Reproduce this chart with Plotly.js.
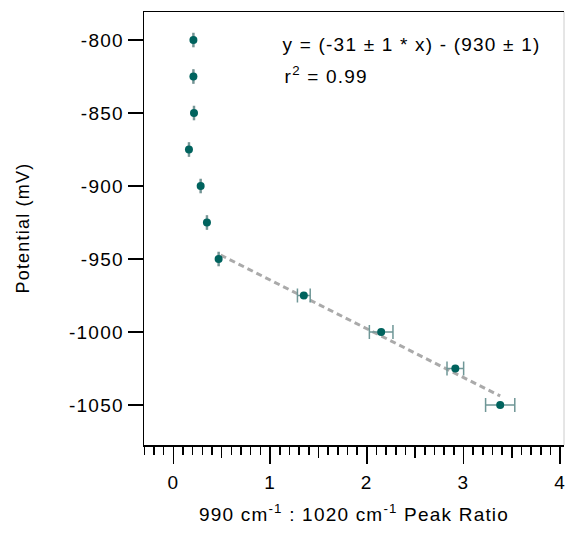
<!DOCTYPE html>
<html>
<head>
<meta charset="utf-8">
<script src="https://cdn.plot.ly/plotly-3.0.1.min.js"></script>
<style>
html,body{margin:0;padding:0;background:#fff;}
#chart{width:566px;height:535px;}
#chart svg text{letter-spacing:1.2px;}
</style>
</head>
<body>
<div id="chart"></div>
<script>
// Data
var peakRatio = [0.207, 0.207, 0.213, 0.161, 0.282, 0.347, 0.468, 1.349, 2.149, 2.916, 3.38];
var potential = [-800, -825, -850, -875, -900, -925, -950, -975, -1000, -1025, -1050];
var ratioErr = [0, 0, 0, 0, 0, 0, 0, 0.066, 0.122, 0.086, 0.151];
var potentialErr = [5, 5, 5, 5, 5, 5, 5, 0, 0, 0, 0];
var fitX = [0.489, 3.38];
var fitY = [-947.3, -1043.8];
var yTicks = [-800, -850, -900, -950, -1000, -1050];
var xTicks = [0, 1, 2, 3, 4];
var xMidTicks = [0.5, 1.5, 2.5, 3.5];
var xTitle = '990 cm<sup>-1</sup> : 1020 cm<sup>-1</sup> Peak Ratio';
var yTitle = 'Potential (mV)';
var fitText = 'y = (-31 ± 1 * x) - (930 ± 1)';
var r2Text = 'r<sup>2</sup> = 0.99';

var font = {family: 'Liberation Sans, Arial, sans-serif', size: 19, color: '#000'};
var yTitleFont = {family: 'Liberation Sans, Arial, sans-serif', size: 18, color: '#000'};

var traces = [
  {
    x: fitX, y: fitY, mode: 'lines', type: 'scatter',
    line: {color: '#aaaaaa', width: 3, dash: '6px,4px'},
    hoverinfo: 'skip', showlegend: false
  },
  {
    x: peakRatio, y: potential, mode: 'markers', type: 'scatter',
    marker: {color: '#00635e', size: 8},
    error_x: {type: 'data', array: ratioErr, visible: true, color: '#6f9797', thickness: 1.5, width: 7},
    error_y: {type: 'data', array: potentialErr, visible: true, color: '#8a9c9c', thickness: 2.5, width: 0},
    showlegend: false
  },
  {
    x: [null], y: [null], xaxis: 'x2', yaxis: 'y', type: 'scatter', mode: 'markers', showlegend: false, hoverinfo: 'skip'
  }
];

var layout = {
  width: 566, height: 535,
  margin: {l: 144, r: 2, t: 12, b: 90},
  paper_bgcolor: '#fff', plot_bgcolor: '#fff',
  font: font,
  showlegend: false,
  xaxis: {
    range: [-0.304, 4.04],
    tickvals: xTicks, ticktext: xTicks.map(String),
    ticks: 'outside', ticklen: 17, tickwidth: 1.5, tickcolor: '#000',
    ticklabelstandoff: 3,
    minor: {dtick: 0.1, tick0: 0, ticks: 'outside', ticklen: 8, tickwidth: 1.5, tickcolor: '#000'},
    showline: true, linecolor: '#000', linewidth: 1.5, mirror: true,
    showgrid: false, zeroline: false,
    tickfont: font,
    title: {text: xTitle, font: font, standoff: 15}
  },
  xaxis2: {
    overlaying: 'x', range: [-0.304, 4.04],
    tickvals: xMidTicks, showticklabels: false,
    ticks: 'outside', ticklen: 12, tickwidth: 1.5, tickcolor: '#000',
    showline: false, showgrid: false, zeroline: false
  },
  yaxis: {
    range: [-1077.4, -780.8],
    tickvals: yTicks, ticktext: yTicks.map(String),
    ticks: 'outside', ticklen: 15, tickwidth: 1.5, tickcolor: '#000',
    showline: true, linecolor: '#000', linewidth: 1.5,
    showgrid: false, zeroline: false,
    tickfont: font
  },
  shapes: [
    {type: 'line', xref: 'paper', yref: 'paper', x0: 1, x1: 1, y0: 0, y1: 1,
     line: {color: '#cccccc', width: 1}}
  ],
  annotations: [
    {xref: 'paper', yref: 'paper', x: -0.288, y: 0.501, xanchor: 'center', yanchor: 'middle',
     text: yTitle, textangle: -90, showarrow: false, font: yTitleFont},
    {xref: 'paper', yref: 'paper', x: 0.637, y: 0.926, xanchor: 'center', yanchor: 'middle',
     text: fitText, showarrow: false, font: font},
    {xref: 'paper', yref: 'paper', x: 0.4345, y: 0.854, xanchor: 'center', yanchor: 'middle',
     text: r2Text, showarrow: false, font: font}
  ]
};

Plotly.newPlot('chart', traces, layout, {displayModeBar: false, staticPlot: true});
</script>
</body>
</html>
